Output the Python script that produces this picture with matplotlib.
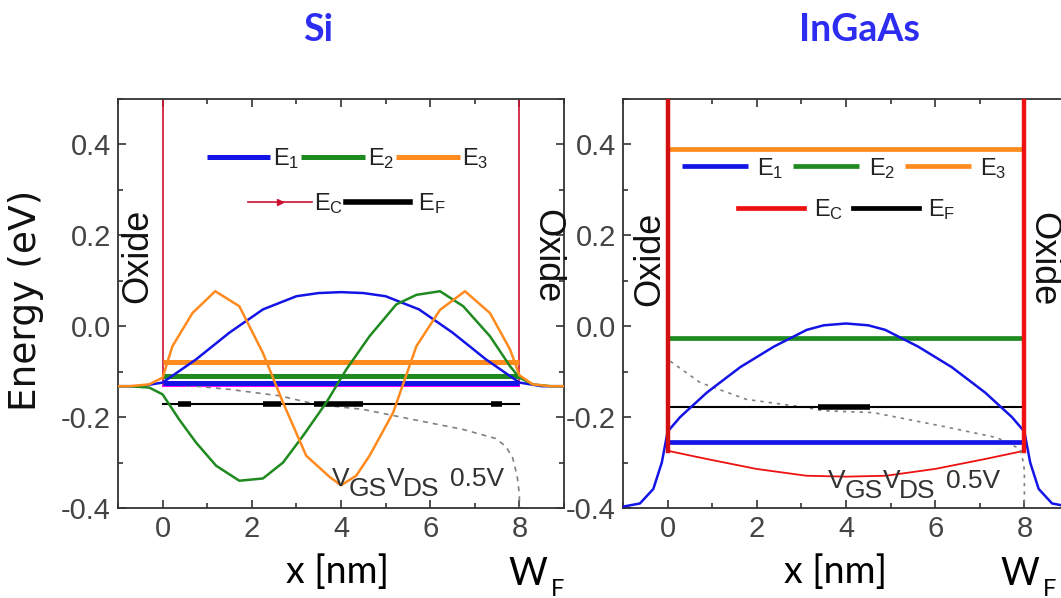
import matplotlib
matplotlib.use('Agg')
import matplotlib.pyplot as plt
from matplotlib.lines import Line2D
from matplotlib.ticker import MultipleLocator, FormatStrFormatter

plt.rcParams['font.family'] = ['Liberation Sans', 'DejaVu Sans']
plt.rcParams['mathtext.fontset'] = 'custom'
plt.rcParams['mathtext.rm'] = 'Liberation Sans'
plt.rcParams['mathtext.it'] = 'Liberation Sans:italic'
plt.rcParams['axes.unicode_minus'] = False

# ---- Si panel data (energies in eV, x in nm) ----
si_levels = {'E1': -0.124, 'E2': -0.110, 'E3': -0.078}
si_ec_x = [0.0, 0.0, 8.0, 8.0]
si_ec_E = [0.55, -0.132, -0.132, 0.55]
si_ef_E = -0.172
si_ef_thick = [(0.34, 0.64), (2.25, 2.65), (3.4, 4.5), (7.36, 7.62)]

si_psi1_x = [-1.0, -0.5, 0.0, 0.75, 1.5, 2.25, 3.0, 3.5, 4.0, 4.5, 5.0, 5.75, 6.5, 7.25, 8.0,
             8.5, 9.0]
si_psi1_E = [-0.132, -0.132, -0.124, -0.073, -0.014, 0.037, 0.066, 0.073, 0.075, 0.073, 0.066,
             0.037, -0.014, -0.073, -0.124, -0.132, -0.132]
si_psi2_x = [-1.0, -0.75, -0.3, 0.0, 0.37, 0.75, 1.2, 1.72, 2.25, 2.70, 3.15, 3.67, 4.12,
             4.64, 5.24, 5.69, 6.22, 6.74, 7.34, 7.79, 8.0, 8.3, 8.7, 9.0]
si_psi2_E = [-0.132, -0.132, -0.135, -0.150, -0.205, -0.256, -0.307, -0.340, -0.335, -0.300,
             -0.241, -0.168, -0.095, -0.022, 0.048, 0.069, 0.077, 0.044, -0.022, -0.088,
             -0.113, -0.128, -0.132, -0.132]
si_psi3_x = [-1.0, -0.75, -0.3, 0.0, 0.22, 0.67, 1.18, 1.72, 2.25, 2.70, 3.22, 3.75, 4.0,
             4.34, 4.64, 5.17, 5.69, 6.22, 6.78, 7.34, 7.79, 8.0, 8.3, 8.7, 9.0]
si_psi3_E = [-0.132, -0.132, -0.128, -0.113, -0.044, 0.029, 0.077, 0.044, -0.059, -0.168,
             -0.285, -0.332, -0.350, -0.329, -0.285, -0.190, -0.044, 0.036, 0.077, 0.029,
             -0.051, -0.108, -0.128, -0.132, -0.132]
si_pot_x = [0.3, 0.75, 1.5, 2.62, 3.45, 4.49, 5.6, 6.73, 7.47, 7.7, 7.85, 7.95, 8.0, 8.0]
si_pot_E = [-0.130, -0.132, -0.139, -0.153, -0.172, -0.183, -0.205, -0.227, -0.247, -0.265,
            -0.290, -0.330, -0.370, -0.400]

# ---- InGaAs panel data ----
ig_levels = {'E1': -0.254, 'E2': -0.025, 'E3': 0.391}
ig_ec_x = [0.0, 0.0, 0.87, 1.99, 3.11, 4.0, 4.9, 6.0, 7.13, 8.0, 8.0]
ig_ec_E = [0.55, -0.274, -0.292, -0.314, -0.329, -0.331, -0.329, -0.314, -0.292, -0.274, 0.55]
ig_ef_E = -0.177
ig_ef_thick = [(3.38, 4.54)]

ig_psi1_x = [-1.0, -0.62, -0.32, -0.13, 0.0, 0.28, 0.88, 1.63, 2.38, 3.12, 3.5, 4.0, 4.5,
             4.88, 5.62, 6.37, 7.12, 7.72, 8.0, 8.13, 8.32, 8.62, 9.0]
ig_psi1_E = [-0.397, -0.390, -0.358, -0.300, -0.232, -0.200, -0.146, -0.090, -0.045, -0.008,
             0.002, 0.006, 0.002, -0.008, -0.045, -0.090, -0.146, -0.200, -0.232, -0.300,
             -0.358, -0.390, -0.397]
ig_pot_x = [0.06, 0.73, 1.77, 3.12, 3.49, 4.61, 6.11, 7.38, 7.90, 7.98, 8.0, 8.0]
ig_pot_E = [-0.077, -0.124, -0.161, -0.179, -0.186, -0.190, -0.219, -0.245, -0.270, -0.300,
            -0.320, -0.400]

x_ticks = [0, 2, 4, 6, 8]
y_ticks = [-0.4, -0.2, 0.0, 0.2, 0.4]

c_blue = '#1414e6'
c_green = '#1f8a1f'
c_orange = '#ff8a1e'
c_red = '#ee1111'
c_gray = '#808080'
c_text = '#333333'

W, H = 1061, 598
fig = plt.figure(figsize=(W / 100, H / 100), dpi=100)
ax1 = fig.add_axes([118 / W, 90 / H, 446 / W, 409 / H])
ax2 = fig.add_axes([623 / W, 90 / H, 446 / W, 409 / H])


def style_axes(ax):
    ax.set_xlim(-1, 9)
    ax.set_ylim(-0.4, 0.5)
    ax.set_xticks(x_ticks)
    ax.set_yticks(y_ticks)
    ax.xaxis.set_minor_locator(MultipleLocator(1))
    ax.yaxis.set_minor_locator(MultipleLocator(0.1))
    ax.yaxis.set_major_formatter(FormatStrFormatter('%.1f'))
    ax.tick_params(which='both', direction='in', top=True, right=True,
                   colors='#333333', labelcolor='#444444', labelsize=21, width=1.2)
    ax.tick_params(which='major', length=6, pad=5)
    ax.tick_params(which='minor', length=3.5)
    for s in ax.spines.values():
        s.set_color('#333333')
        s.set_linewidth(1.3)


def ef_line(ax, e, thick):
    ax.plot([0, 8], [e, e], color='black', lw=1.5, zorder=3)
    for a, b in thick:
        ax.plot([a, b], [e, e], color='black', lw=4, solid_capstyle='butt', zorder=3)


def vgs_text(ax, x0, y0):
    kw = dict(fontsize=19, color=c_text, ha='left', va='baseline', zorder=6)
    ax.text(x0, y0, 'V', **kw)
    ax.text(x0 + 0.38, y0 - 0.022, 'GS', **kw)
    ax.text(x0 + 1.22, y0, 'V', **kw)
    ax.text(x0 + 1.58, y0 - 0.022, 'DS', **kw)
    ax.text(x0 + 2.65, y0, '0.5V', **kw)


sub = ['E$_\\mathregular{1}$', 'E$_\\mathregular{2}$', 'E$_\\mathregular{3}$']
sub_c = 'E$_\\mathregular{C}$'
sub_f = 'E$_\\mathregular{F}$'

# ---------------- Si ----------------
style_axes(ax1)
ax1.plot(si_ec_x, si_ec_E, color='#cc1030', lw=1.2, zorder=2)
ax1.plot(si_ec_x[1:3], si_ec_E[1:3], color='#ff00ff', lw=1.5, zorder=2)
h1 = ax1.plot([0, 8], [si_levels['E1']] * 2, color=c_blue, lw=3.6, solid_capstyle='butt', zorder=3)[0]
h2 = ax1.plot([0, 8], [si_levels['E2']] * 2, color=c_green, lw=3.6, solid_capstyle='butt', zorder=3)[0]
h3 = ax1.plot([0, 8], [si_levels['E3']] * 2, color=c_orange, lw=3.6, solid_capstyle='butt', zorder=3)[0]
ef_line(ax1, si_ef_E, si_ef_thick)
ax1.plot(si_pot_x, si_pot_E, color=c_gray, lw=1.2, ls=(0, (3, 3)), zorder=2)
ax1.plot(si_psi1_x, si_psi1_E, color=c_blue, lw=1.8, zorder=4)
ax1.plot(si_psi2_x, si_psi2_E, color=c_green, lw=1.8, zorder=4)
ax1.plot(si_psi3_x, si_psi3_E, color=c_orange, lw=1.8, zorder=4)

leg_kw = dict(frameon=False, fontsize=17, loc='center', handletextpad=0.1, columnspacing=0.1,
              handlelength=2.7, labelcolor='#222222', borderpad=0, borderaxespad=0)
leg = ax1.legend([h1, h2, h3], sub, ncol=3, bbox_to_anchor=(0.515, 0.855), **leg_kw)
ax1.add_artist(leg)
hc = Line2D([], [], color='#cc1030', lw=1.2, marker='>', markersize=4)
hf = Line2D([], [], color='black', lw=4)
ax1.legend([hc, hf], [sub_c, ' ' + sub_f], ncol=2, bbox_to_anchor=(0.514, 0.745), **leg_kw)

ax1.text(-0.56, 0.155, 'Oxide', rotation=90, fontsize=26, ha='center', va='center', color='#111111')
ax1.text(8.62, 0.155, 'Oxide', rotation=270, fontsize=26, ha='center', va='center', color='#111111')
vgs_text(ax1, 3.8, -0.352)

# ---------------- InGaAs ----------------
style_axes(ax2)
ax2.plot(ig_ec_x, ig_ec_E, color=c_red, lw=1.3, zorder=2)
ax2.plot(ig_ec_x[:2], ig_ec_E[:2], color='#d41010', lw=3.2, zorder=5)
ax2.plot(ig_ec_x[-2:], ig_ec_E[-2:], color=c_red, lw=3.2, zorder=5)
g1 = ax2.plot([0, 8], [ig_levels['E1']] * 2, color=c_blue, lw=3.4, solid_capstyle='butt', zorder=3)[0]
g2 = ax2.plot([0, 8], [ig_levels['E2']] * 2, color=c_green, lw=3.4, solid_capstyle='butt', zorder=3)[0]
g3 = ax2.plot([0, 8], [ig_levels['E3']] * 2, color=c_orange, lw=3.4, solid_capstyle='butt', zorder=3)[0]
ef_line(ax2, ig_ef_E, ig_ef_thick)
ax2.plot(ig_pot_x, ig_pot_E, color=c_gray, lw=1.2, ls=(0, (2, 3)), zorder=2)
ax2.plot(ig_psi1_x, ig_psi1_E, color=c_blue, lw=1.8, zorder=4)

leg_kw2 = dict(leg_kw, handletextpad=0.4, columnspacing=0.4, handlelength=2.8)
leg2 = ax2.legend([g1, g2, g3], sub, ncol=3, bbox_to_anchor=(0.496, 0.831), **leg_kw2)
ax2.add_artist(leg2)
gc = Line2D([], [], color=c_red, lw=3.4)
gf = Line2D([], [], color='black', lw=3.4)
ax2.legend([gc, gf], [sub_c, sub_f], ncol=2, bbox_to_anchor=(0.502, 0.729), **leg_kw2)

ax2.text(-0.39, 0.148, 'Oxide', rotation=90, fontsize=26, ha='center', va='center', color='#111111')
ax2.text(8.42, 0.148, 'Oxide', rotation=270, fontsize=26, ha='center', va='center', color='#111111')
vgs_text(ax2, 3.6, -0.356)

# ---------------- figure texts ----------------
fig.text(26 / W, 1 - 300 / H, 'Energy (eV)', rotation=90, fontsize=27, ha='center', va='center',
         color='#111111', family='DejaVu Sans')
title_kw = dict(fontsize=27, fontweight='bold', color='#2d2df2', ha='center', va='center',
                family='Lato')
fig.text(318 / W, 1 - 30 / H, 'Si', **title_kw)
fig.text(860 / W, 1 - 30 / H, 'InGaAs', **title_kw)

lab_kw = dict(fontsize=27, family='Lato', color='black', va='baseline')
fig.text(338 / W, 1 - 583 / H, 'x [nm]', ha='center', **lab_kw)
fig.text(835 / W, 1 - 583 / H, 'x [nm]', ha='center', **lab_kw)
for wx in (508, 1000):
    fig.text(wx / W, 1 - 585 / H, 'W', ha='left', **lab_kw)
    fig.text((wx + 43) / W, 1 - 596 / H, 'F', ha='left', fontsize=17, family='Lato',
             color='black', va='baseline')

fig.savefig('out.png', dpi=100, facecolor='white')
